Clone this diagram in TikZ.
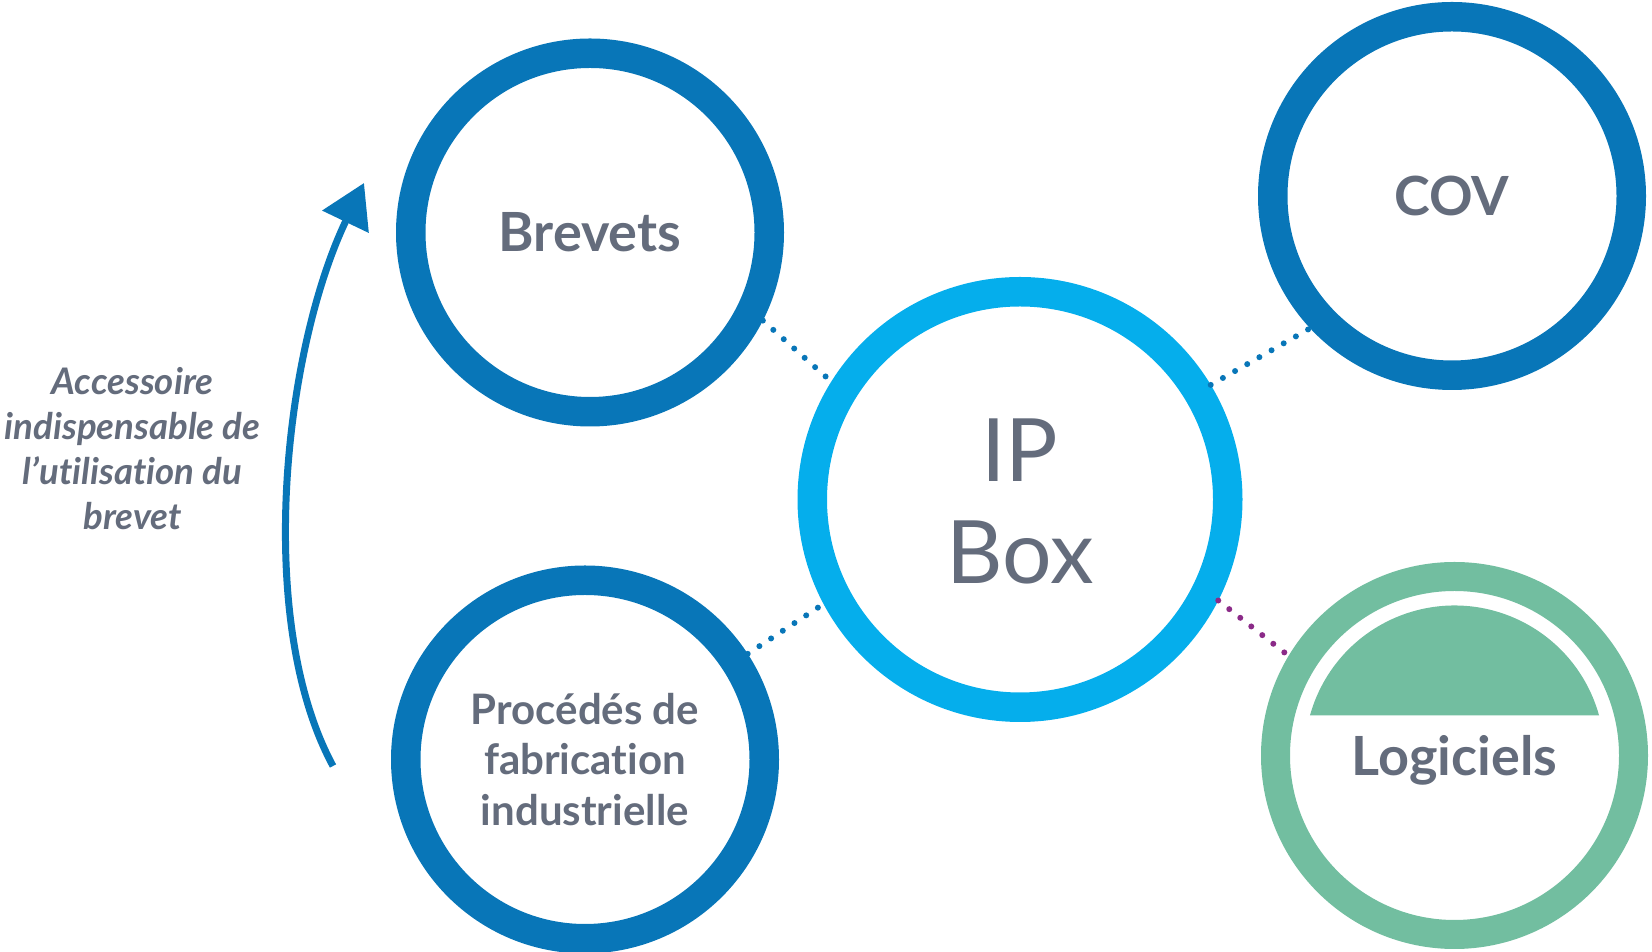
\documentclass[tikz,border=0pt]{standalone}
\usepackage{fontspec}
\setmainfont{Lato}[Ligatures=NoCommon]
\usepackage{tikz}
\usetikzlibrary{positioning, arrows.meta}

\definecolor{ringblue}{HTML}{0876B8}
\definecolor{ringcyan}{HTML}{05AEEC}
\definecolor{ringgreen}{HTML}{72BEA0}
\definecolor{labelgray}{HTML}{646C7C}
\definecolor{dotpurple}{HTML}{8B2A88}

\begin{document}
\begin{tikzpicture}[-,auto,on grid,x=1pt,y=1pt,
                    main node/.style={circle,draw=ringblue,line width=29.5pt,minimum size=358.5pt,inner sep=0pt,
                                      text=labelgray,font=\fontsize{54}{60}\selectfont\bfseries},
                    dot edge/.style={draw=ringblue,line width=6pt,line cap=round,dash pattern=on 0pt off 14pt}]

  \useasboundingbox (0,0) rectangle (1652,952);

  \node[main node,draw=ringcyan,minimum size=415.5pt] (1) at (1020,452.5) {};
  \node[text=labelgray,align=center,font=\fontsize{87.5}{102}\selectfont] (2) [below=2pt of 1] {IP\\Box};
  \node[main node] (3) [above left=267pt and 430pt of 1] {Brevets};
  \node[main node] (4) [above right=303.5pt and 432pt of 1] {COV};
  \node[main node,align=center,font=\fontsize{42}{50.3}\selectfont\bfseries] (5) [below left=260pt and 435pt of 1]
    {Procédés de\\fabrication\\industrielle};
  \node[main node,draw=ringgreen,line width=29pt,minimum size=358pt,text depth=0pt] (6) [below right=256pt and 434.5pt of 1] {Logiciels};
  \node[text=labelgray,align=center,font=\fontsize{36.6}{45}\selectfont\bfseries\itshape] (7) at (132.5,503)
    {Accessoire\\indispensable de\\l’utilisation du\\brevet};

  % demi-disque dans le cercle Logiciels
  \fill[ringgreen] ([shift={(15.5:150pt)}]6.center) arc[start angle=15.5,end angle=164.5,radius=150pt] -- cycle;

  \path
    (3.-27) edge[dot edge] (1.148)
    (1.31) edge[dot edge] (4.-137)
    (5.33) edge[dot edge] (1.208)
    (1.-27) edge[dot edge,draw=dotpurple] (6.149);

  \coordinate (a) at (333,186);
  \coordinate (b) at (364,769);
  \draw[ringblue,line width=7pt,-{Triangle[width=50pt,length=43pt]}] (a) .. controls (254,332) and (284,602) .. (b);

\end{tikzpicture}
\end{document}
